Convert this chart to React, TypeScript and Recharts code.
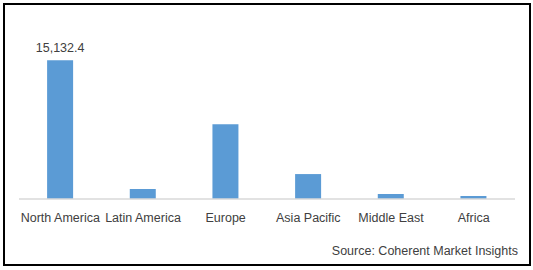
import React from 'react';
import { BarChart, Bar, XAxis, YAxis, LabelList } from 'recharts';

const regions = ['North America', 'Latin America', 'Europe', 'Asia Pacific', 'Middle East', 'Africa'];
const values = [15132.4, 1090, 8165, 2720, 545, 330];
const labels = ['15,132.4', '', '', '', '', ''];

const data = regions.map((region, i) => ({ region, value: values[i], label: labels[i] }));

const font = '"Liberation Sans", Arial, sans-serif';

export default function App() {
  return (
    <div style={{ position: 'absolute', left: 0, top: 0, width: 533, height: 270, background: '#fff', fontFamily: font }}>
      <style>{'body{margin:0}'}</style>
      <div
        style={{
          position: 'absolute',
          left: 3,
          top: 3,
          width: 528,
          height: 263,
          border: '2px solid #000',
          boxSizing: 'border-box',
        }}
      >
        <BarChart
          width={524}
          height={259}
          data={data}
          margin={{ top: 29, right: 14, bottom: 35, left: 14 }}
          barCategoryGap="34%"
        >
          <XAxis
            dataKey="region"
            axisLine={{ stroke: '#D9D9D9', strokeWidth: 1.5 }}
            tickLine={false}
            tickMargin={8}
            interval={0}
            tick={{ fill: '#404040', fontSize: 12.5, fontFamily: font }}
          />
          <YAxis hide domain={[0, 18000]} />
          <Bar dataKey="value" fill="#5B9BD5" isAnimationActive={false}>
            <LabelList dataKey="label" position="top" offset={8} fill="#404040" fontSize={12.5} fontFamily={font} />
          </Bar>
        </BarChart>
      </div>
      <div
        style={{
          position: 'absolute',
          right: 15,
          top: 244,
          fontSize: 12.5,
          color: '#404040',
          whiteSpace: 'nowrap',
        }}
      >
        Source: Coherent Market Insights
      </div>
    </div>
  );
}
